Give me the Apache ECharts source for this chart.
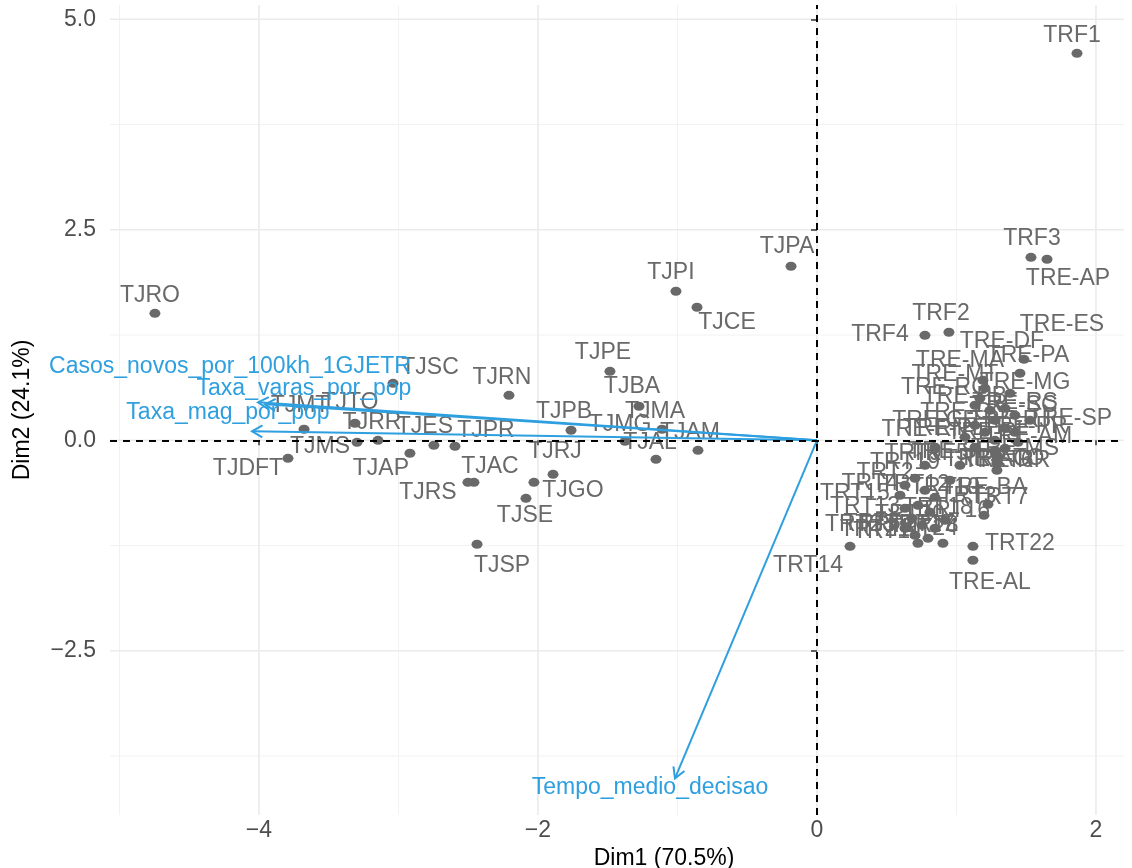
<!DOCTYPE html>
<html><head><meta charset="utf-8">
<script src="https://cdn.jsdelivr.net/npm/echarts@6/dist/echarts.min.js"></script>
<style>html,body{margin:0;padding:0;background:#fff}#c{width:1132px;height:868px}</style>
</head><body><div id="c"></div>
<script>
// ---- data ----
const indNames = ['TJRO','TJPA','TJPI','TJCE','TJPE','TJBA','TJRN','TJSC','TJPB','TJMG','TJMA','TJAL','TJAM','TJRJ','TJGO','TJSE','TJSP','TJAC','TJRS','TJPR','TJES','TJAP','TJMS','TJTO','TJRR','TJMT','TJDFT',
  'TRF1','TRF2','TRF3','TRF4','TRF5',
  'TRE-ES','TRE-PA','TRE-DF','TRE-MG','TRE-MA','TRE-MT','TRE-RO','TRE-PB','TRE-RS','TRE-SC','TRE-SP','TRE-GO','TRE-CE','TRE-RJ','TRE-PE','TRE-PR','TRE-RN','TRE-PI','TRE-AM','TRE-SE','TRE-MS','TRE-TO','TRE-AC','TRE-RR','TRE-BA','TRE-AL','TRE-AP',
  'TRT1','TRT2','TRT3','TRT4','TRT5','TRT6','TRT7','TRT8','TRT9','TRT10','TRT11','TRT12','TRT13','TRT14','TRT15','TRT16','TRT17','TRT18','TRT19','TRT20','TRT21','TRT22','TRT23','TRT24'];
const indDim1 = [-4.746,-0.186,-1.011,-0.860,-1.484,-1.276,-2.208,-3.039,-1.763,-1.376,-1.111,-1.154,-0.853,-1.892,-2.029,-2.086,-2.437,-2.459,-2.502,-2.595,-2.746,-2.918,-3.297,-3.312,-3.147,-3.677,-3.792,
  1.864,0.946,1.534,0.774,1.025,
  1.484,1.455,1.190,1.384,1.204,1.168,1.133,1.240,1.348,1.419,1.527,1.276,1.133,1.348,1.204,1.419,1.061,1.276,1.441,1.133,1.348,1.290,1.290,1.290,0.953,1.118,1.649,
  0.724,0.703,1.226,0.631,0.681,1.276,1.197,0.903,0.774,0.846,0.753,0.774,0.631,0.237,0.595,0.918,0.846,0.724,0.846,0.810,0.703,1.118,0.631,0.796];
const indDim2 = [1.508,2.067,1.770,1.580,0.819,0.404,0.534,0.677,0.119,-0.012,0.131,-0.226,-0.119,-0.404,-0.499,-0.689,-1.235,-0.499,-0.499,-0.071,-0.059,-0.154,-0.024,0.202,0.000,0.131,-0.214,
  4.596,1.283,2.173,1.247,-0.297,
  0.962,0.796,0.713,0.558,0.618,0.499,0.416,0.356,0.380,0.297,0.238,0.238,0.178,0.143,0.095,0.095,0.036,0.000,-0.024,-0.083,-0.095,-0.178,-0.273,-0.356,-0.475,-1.425,2.150,
  -1.223,-0.451,-0.760,-0.534,-0.926,-0.119,-0.891,-1.223,-0.297,-0.677,-1.010,-0.594,-0.808,-1.259,-0.653,-0.950,-1.045,-0.772,-0.083,-0.855,-1.128,-1.259,-1.045,-1.164];

const varNames = ['Casos_novos_por_100kh_1GJETR','Taxa_varas_por_pop','Taxa_mag_por_pop','Tempo_medio_decisao'];
const varDim1 = [-4.007,-3.957,-4.050,-1.018];
const varDim2 = [0.451,0.428,0.107,-4.014];

const xTicks = [-4,-2,0,2];
const yTicks = [-2.5,0,2.5,5];
const xMinor = [-5,-3,-1,1];
const yMinor = [-3.75,-1.25,1.25,3.75];

// ---- style / layout ----
const X_MIN = -5.068, X_MAX = 2.201, Y_MIN = -4.45, Y_MAX = 5.17;
const FONT = "'Liberation Sans', Arial, Helvetica, sans-serif";
const IND_COL = '#696969', VAR_COL = '#2E9FDF';
const SYM = [11,9];

const labelOffset = {
  TJRO:[-5,-18],TJPA:[-4,-20],TJPI:[-5,-19],TJCE:[30,15],TJPE:[-7,-19],TJBA:[-7,-20],TJRN:[-7,-18],TJSC:[37,-16],
  TJPB:[-7,-19],TJMA:[-7,-18],TJMG:[-5,-17],TJAM:[-8,-18],TJAL:[-6,-17],TJRJ:[2,-23],TJGO:[39,8],TJSE:[-1,17],
  TJSP:[25,21],TJAC:[16,-16],TJRS:[-40,10],TJPR:[31,-16],TJES:[-9,-19],TJAP:[-29,15],TJMS:[-37,4],TJTO:[-5,-21],
  TJRR:[-6,-18],TJMT:[-4,-24],TJDFT:[-40,10],
  TRF1:[-5,-18],TRF3:[1,-19],'TRE-AP':[21,19],TRF2:[-8,-19],TRF4:[-45,-1],TRF5:[-20,-12],
  'TRE-ES':[38,-35],'TRE-DF':[19,-39],'TRE-PA':[8,-18],'TRE-MG':[15,-11],'TRE-MA':[-25,-28],'TRE-MT':[-25,-24],
  'TRE-RO':[-30,-18],'TRE-PB':[-25,-14],'TRE-RS':[10,-6],'TRE-SC':[0,-10],'TRE-SP':[40,-2],'TRE-GO':[-30,-8],
  'TRE-CE':[-40,-5],'TRE-RJ':[5,-8],'TRE-PE':[-40,-4],'TRE-PR':[10,-6],'TRE-RN':[-40,-8],'TRE-PI':[-10,-8],
  'TRE-AM':[10,-6],'TRE-SE':[-25,4],'TRE-MS':[10,0],'TRE-TO':[5,3],'TRE-AC':[-10,-4],'TRE-RR':[10,-10],
  'TRE-BA':[35,7],'TRE-AL':[17,22],
  TRT19:[-30,15],TRT9:[-12,-12],TRT6:[10,10],TRT2:[-30,-6],TRT4:[-35,-2],TRT12:[-10,-6],TRT15:[-45,-2],
  TRT10:[10,-10],TRT18:[20,2],TRT13:[-40,-2],TRT20:[-20,2],TRT5:[-40,5],TRT11:[-35,6],TRT23:[-45,-4],
  TRT17:[-15,-4],TRT21:[-40,-6],TRT24:[-5,-10],TRT16:[10,-10],TRT8:[-13,-18],TRT1:[-30,-18],TRT3:[-20,-8],
  TRT7:[16,-18],TRT14:[-42,19],TRT22:[47,-3]
};
const varLabelOffset = [[-28,-36],[39,-16],[-24,-19],[-25,9]];

function fmtX(v){ return (v < 0 ? '\u2212' : '') + Math.abs(v); }
function fmtY(v){ return (v < 0 ? '\u2212' : '') + Math.abs(v).toFixed(1); }

const chart = echarts.init(document.getElementById('c'), null, {renderer:'canvas'});

const indData = indNames.map((n,i)=>{
  const off = labelOffset[n] || [0,-18];
  return {
    name:n, value:[indDim1[i], indDim2[i]],
    label:{position:[SYM[0]/2 + off[0], SYM[1]/2 + off[1]], align:'center', verticalAlign:'middle'}
  };
});
const varData = varNames.map((n,i)=>[varDim1[i], varDim2[i], i]);

chart.setOption({
  animation:false,
  backgroundColor:'#fff',
  grid:{left:110, right:8, top:5, bottom:53, containLabel:false, outerBoundsMode:'none'},
  xAxis:{
    type:'value', min:X_MIN, max:X_MAX,
    axisLine:{show:false},
    axisTick:{show:true, customValues:xTicks, length:5, lineStyle:{color:'#333', width:1.5}},
    axisLabel:{customValues:xTicks, formatter:fmtX, color:'#4D4D4D', fontSize:23, fontFamily:FONT, margin:4},
    splitLine:{show:false},
    name:'Dim1 (70.5%)', nameLocation:'middle', nameGap:28,
    nameTextStyle:{color:'#000', fontSize:23, fontFamily:FONT, padding:[0,0,0,94], verticalAlign:'top'}
  },
  yAxis:{
    type:'value', min:Y_MIN, max:Y_MAX,
    axisLine:{show:false},
    axisTick:{show:true, customValues:yTicks, length:6, lineStyle:{color:'#333', width:1.5}},
    axisLabel:{customValues:yTicks, formatter:fmtY, color:'#4D4D4D', fontSize:23, fontFamily:FONT, margin:14},
    splitLine:{show:false},
    name:'Dim2 (24.1%)', nameLocation:'middle', nameGap:76,
    nameTextStyle:{color:'#000', fontSize:23, fontFamily:FONT}
  },
  series:[
    {
      type:'custom', z:0, silent:true, clip:true,
      data:[[0,0]],
      renderItem:function(params, api){
        const ch = [];
        const v = (val, w, c)=>{const a=api.coord([val,Y_MIN]), b=api.coord([val,Y_MAX]);
          ch.push({type:'line', shape:{x1:a[0],y1:a[1],x2:b[0],y2:b[1]}, style:{stroke:c, lineWidth:w}});};
        const h = (val, w, c)=>{const a=api.coord([X_MIN,val]), b=api.coord([X_MAX,val]);
          ch.push({type:'line', shape:{x1:a[0],y1:a[1],x2:b[0],y2:b[1]}, style:{stroke:c, lineWidth:w}});};
        xMinor.forEach(t=>v(t,1,'#F2F2F2'));
        yMinor.forEach(t=>h(t,1,'#F2F2F2'));
        xTicks.forEach(t=>v(t,1.6,'#EBEBEB'));
        yTicks.forEach(t=>h(t,1.6,'#EBEBEB'));
        return {type:'group', children:ch};
      }
    },
    {
      type:'scatter', z:3,
      symbol:'circle', symbolSize:SYM,
      itemStyle:{color:IND_COL, opacity:1},
      label:{show:true, formatter:'{b}', color:IND_COL, fontSize:23, fontFamily:FONT},
      labelLayout:{hideOverlap:false},
      data:indData,
      markLine:{
        silent:true, symbol:['none','none'], label:{show:false},
        lineStyle:{color:'#000', type:[7,6], width:2},
        data:[{xAxis:0},{yAxis:0}]
      }
    },
    {
      type:'custom', z:4, silent:true, clip:false,
      data:varData,
      renderItem:function(params, api){
        const i = api.value(2);
        const o = api.coord([0,0]);
        const e = api.coord([api.value(0), api.value(1)]);
        const ang = Math.atan2(e[1]-o[1], e[0]-o[0]);
        const L = 12, a = Math.PI/6;
        const p1 = [e[0]-L*Math.cos(ang-a), e[1]-L*Math.sin(ang-a)];
        const p2 = [e[0]-L*Math.cos(ang+a), e[1]-L*Math.sin(ang+a)];
        const off = varLabelOffset[i];
        return {type:'group', children:[
          {type:'line', shape:{x1:o[0],y1:o[1],x2:e[0],y2:e[1]}, style:{stroke:VAR_COL, lineWidth:2}},
          {type:'polyline', shape:{points:[p1,e,p2]}, style:{stroke:VAR_COL, lineWidth:2, fill:null}},
          {type:'text', x:e[0]+off[0], y:e[1]+off[1],
           style:{text:varNames[i], fill:VAR_COL, fontSize:23, fontFamily:FONT, align:'center', verticalAlign:'middle'}}
        ]};
      }
    }
  ]
});
</script></body></html>
